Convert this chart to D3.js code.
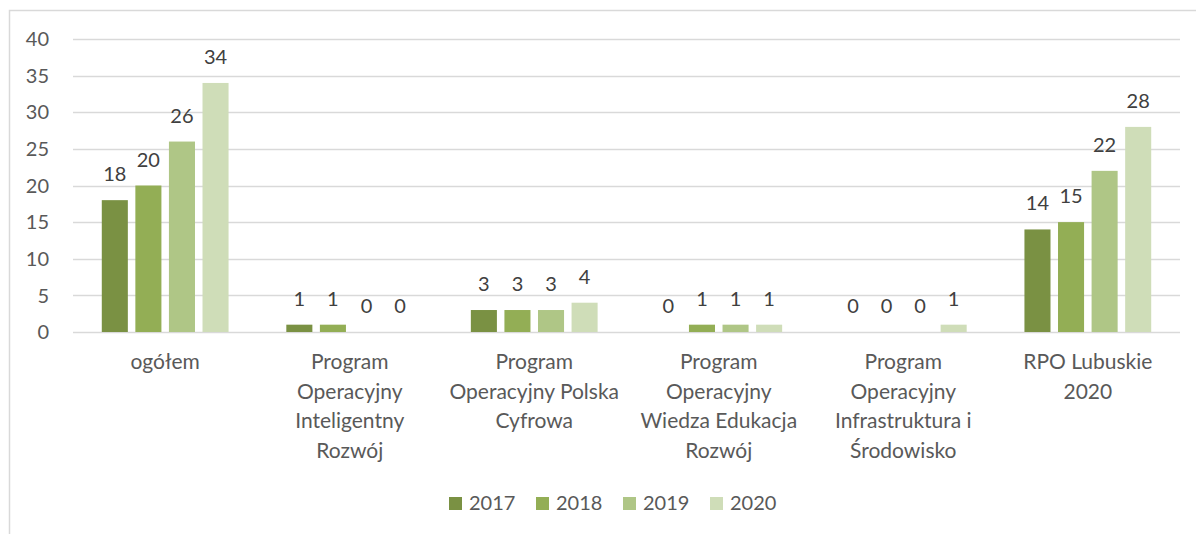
<!DOCTYPE html>
<html>
<head>
<meta charset="utf-8">
<script src="https://cdn.jsdelivr.net/npm/d3@7"></script>
<style>
  body { margin: 0; background: #fff; }
  svg { display: block; font-family: Lato, "Open Sans", sans-serif; }
</style>
</head>
<body>
<div id="app"></div>
<script>
// chart data
const categories = [
    "ogółem",
    "Program\nOperacyjny\nInteligentny\nRozwój",
    "Program\nOperacyjny Polska\nCyfrowa",
    "Program\nOperacyjny\nWiedza Edukacja\nRozwój",
    "Program\nOperacyjny\nInfrastruktura i\nŚrodowisko",
    "RPO Lubuskie\n2020"
];
const years = ["2017", "2018", "2019", "2020"];
const values2017 = [18, 1, 3, 0, 0, 14];
const values2018 = [20, 1, 3, 1, 0, 15];
const values2019 = [26, 0, 3, 1, 0, 22];
const values2020 = [34, 0, 4, 1, 1, 28];
const yTicks = [0, 5, 10, 15, 20, 25, 30, 35, 40];

const series = [values2017, values2018, values2019, values2020];
const colors = ["#7a9143", "#93ae55", "#afc686", "#cfddb8"];

const draw = () => {
    const width = 1196;
    const height = 534;

    const svg = d3.select('#app')
        .append('svg')
        .attr('width', width)
        .attr('height', height);

    // outer frame (only left and top edges visible)
    svg.append('path')
        .attr('d', 'M9.5,' + height + 'V10.5H' + width)
        .attr('fill', 'none')
        .attr('stroke', '#d9d9d9')
        .attr('stroke-width', 1.5);

    const x0 = d3.scaleBand()
        .domain(categories)
        .range([73, 1180])
        .paddingInner(0.313)
        .paddingOuter(0.156);

    const x1 = d3.scaleBand()
        .domain(years)
        .range([0, x0.bandwidth()])
        .paddingInner(0.224);

    const y = d3.scaleLinear()
        .domain([0, 40])
        .range([332, 39]);

    // gridlines
    svg.append('g')
        .selectAll('line')
        .data(yTicks)
        .enter()
        .append('line')
        .attr('x1', 73)
        .attr('x2', 1180)
        .attr('y1', d => Math.round(y(d)) + 0.5)
        .attr('y2', d => Math.round(y(d)) + 0.5)
        .attr('stroke', '#d9d9d9')
        .attr('stroke-width', 1.5);

    // y axis labels
    svg.append('g')
        .selectAll('text')
        .data(yTicks)
        .enter()
        .append('text')
        .attr('x', 49)
        .attr('y', d => y(d))
        .attr('dy', '0.36em')
        .attr('text-anchor', 'end')
        .attr('font-size', '20px')
        .attr('fill', '#595959')
        .text(d => d);

    const groups = svg.append('g')
        .selectAll('g')
        .data(categories)
        .enter()
        .append('g')
        .attr('transform', d => 'translate(' + x0(d) + ',0)');

    years.forEach((yr, s) => {
        groups.append('rect')
            .attr('x', x1(yr))
            .attr('width', x1.bandwidth())
            .attr('y', (d, i) => y(series[s][i]))
            .attr('height', (d, i) => y(0) - y(series[s][i]))
            .attr('fill', colors[s]);

        groups.append('text')
            .attr('x', x1(yr) + x1.bandwidth() / 2)
            .attr('y', (d, i) => y(series[s][i]) - 19)
            .attr('text-anchor', 'middle')
            .attr('font-size', '20px')
            .attr('fill', '#404040')
            .text((d, i) => series[s][i]);
    });

    // category labels
    const catLabels = svg.append('g')
        .selectAll('text')
        .data(categories)
        .enter()
        .append('text')
        .attr('x', d => x0(d) + x0.bandwidth() / 2)
        .attr('y', 369)
        .attr('text-anchor', 'middle')
        .attr('font-size', '21px')
        .attr('fill', '#595959');

    catLabels.selectAll('tspan')
        .data(d => d.split('\n'))
        .enter()
        .append('tspan')
        .attr('x', function () { return d3.select(this.parentNode).attr('x'); })
        .attr('dy', (d, i) => i === 0 ? 0 : 29.5)
        .text(d => d);

    // legend
    const legend = svg.append('g')
        .selectAll('g')
        .data(years)
        .enter()
        .append('g')
        .attr('transform', (d, i) => 'translate(' + (449 + i * 87) + ',497)');

    legend.append('rect')
        .attr('width', 13)
        .attr('height', 13)
        .attr('fill', (d, i) => colors[i]);

    legend.append('text')
        .attr('x', 20)
        .attr('y', 13)
        .attr('font-size', '20px')
        .attr('fill', '#595959')
        .text(d => d);
};

draw();
</script>
</body>
</html>
